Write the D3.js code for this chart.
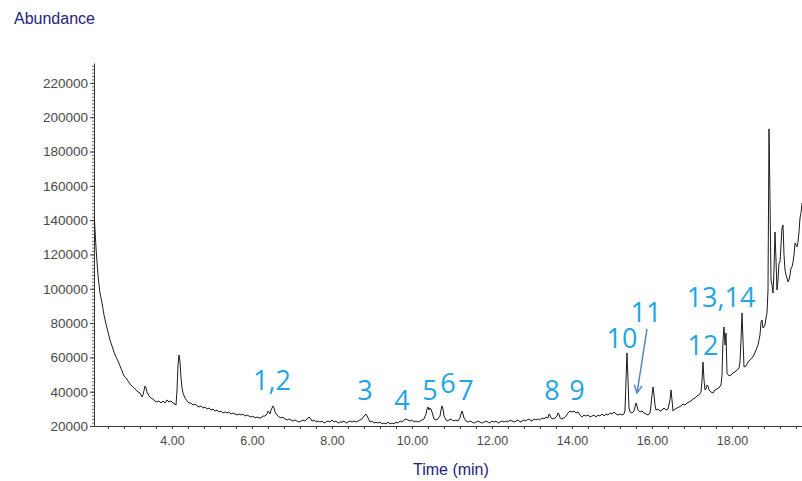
<!DOCTYPE html>
<html>
<head>
<meta charset="utf-8">
<script src="https://cdn.jsdelivr.net/npm/d3@7"></script>
<style>
  html, body { margin: 0; padding: 0; background: #ffffff; }
  svg { display: block; }
</style>
</head>
<body>
<svg id="chart" width="802" height="481"></svg>
<script>
// Total ion chromatogram: [retention time (min), abundance]
const tic = [
  [2.05,144800],[2.075,134300],[2.1,123800],[2.125,115600],[2.15,108000],[2.175,102200],[2.2,97500],
  [2.25,91700],[2.3,84700],[2.35,79500],[2.4,74800],[2.45,70100],[2.5,66600],[2.55,63100],[2.6,60200],
  [2.65,57900],[2.7,55000],[2.75,52100],[2.8,49200],[2.85,48000],[2.9,46200],[2.95,44500],[3.0,43300],
  [3.05,42200],[3.1,41000],[3.15,39800],[3.2,39200],[3.25,36900],[3.275,38100],[3.325,43300],[3.35,42200],
  [3.375,39800],[3.425,37500],[3.475,36300],[3.525,35700],[3.575,34600],[3.625,34000],[3.675,34600],
  [3.725,33400],[3.775,34600],[3.825,33400],[3.875,35200],[3.925,34000],[3.975,34600],[4.025,33400],
  [4.075,32800],[4.1,32200],[4.125,41000],[4.15,55600],[4.175,61400],[4.2,57300],[4.225,48000],
  [4.25,42200],[4.275,39200],[4.325,36300],[4.375,34600],[4.425,33400],[4.475,33400],[4.525,32200],
  [4.575,32800],[4.625,31700],[4.675,31100],[4.725,31700],[4.775,30500],[4.825,31100],[4.875,29900],
  [4.925,30500],[4.975,29300],[5.025,29900],[5.075,28700],[5.125,29300],[5.175,28200],[5.225,28700],
  [5.275,27600],[5.325,28200],[5.375,27600],[5.425,28200],[5.475,27000],[5.525,27600],[5.575,27000],
  [5.625,26400],[5.675,27000],[5.725,26400],[5.775,27000],[5.825,25800],[5.875,26400],[5.925,25800],
  [5.975,25200],[6.025,25800],[6.075,24700],[6.125,25200],[6.175,24700],[6.225,24700],[6.275,25800],
  [6.325,25800],[6.375,27000],[6.4,28700],[6.425,28200],[6.45,27000],[6.475,29300],[6.525,31700],
  [6.55,30500],[6.575,28200],[6.625,26400],[6.675,25200],[6.725,24700],[6.775,25200],[6.825,24100],
  [6.875,23500],[6.925,24100],[6.975,23500],[7.025,22900],[7.075,23500],[7.125,22900],[7.175,22300],
  [7.225,22900],[7.275,23500],[7.325,22900],[7.375,24100],[7.425,25200],[7.45,24700],[7.5,22900],
  [7.55,23500],[7.6,22300],[7.65,22900],[7.7,22300],[7.75,22900],[7.8,21700],[7.85,22300],[7.9,22900],
  [7.95,22300],[8.0,23500],[8.05,22300],[8.1,22900],[8.15,21700],[8.2,22300],[8.25,22300],[8.3,22900],
  [8.35,21700],[8.4,22300],[8.45,22900],[8.5,22300],[8.55,22900],[8.6,22300],[8.65,22900],[8.7,23500],
  [8.75,24100],[8.8,25800],[8.85,27000],[8.9,24700],[8.95,22300],[9.0,22900],[9.05,21700],[9.1,22300],
  [9.15,21700],[9.2,22300],[9.25,21200],[9.3,21700],[9.35,21200],[9.4,22300],[9.45,21200],[9.5,21700],
  [9.55,21200],[9.6,22300],[9.65,21700],[9.7,22900],[9.75,22300],[9.8,23500],[9.85,24100],[9.9,23500],
  [9.95,22900],[10.0,23500],[10.05,22300],[10.1,22900],[10.15,22300],[10.2,22900],[10.25,23500],
  [10.3,24100],[10.35,27000],[10.375,29900],[10.4,31100],[10.425,29300],[10.45,30500],[10.475,29900],
  [10.5,28200],[10.55,24100],[10.6,23500],[10.65,24100],[10.7,25800],[10.725,29300],[10.75,31700],
  [10.775,29900],[10.8,25800],[10.85,23500],[10.9,22900],[10.95,24100],[11.0,23500],[11.05,22900],
  [11.1,23500],[11.15,22900],[11.2,24700],[11.225,27000],[11.25,28700],[11.275,27000],[11.3,24700],
  [11.35,22900],[11.4,22300],[11.45,22900],[11.5,22300],[11.55,21700],[11.6,22300],[11.65,22900],
  [11.7,22300],[11.75,21700],[11.8,22300],[11.85,22900],[11.9,22300],[11.95,21700],[12.0,22900],
  [12.05,22300],[12.1,22900],[12.15,21700],[12.2,22300],[12.25,22900],[12.3,22300],[12.35,22900],
  [12.4,22300],[12.45,23500],[12.5,22900],[12.55,22300],[12.6,22900],[12.65,23500],[12.7,22300],
  [12.75,22900],[12.8,23500],[12.85,22900],[12.9,24100],[12.95,23500],[13.0,22900],[13.05,24100],
  [13.1,23500],[13.15,24100],[13.2,23500],[13.25,24700],[13.3,24100],[13.35,25200],[13.4,24700],
  [13.425,27000],[13.45,26400],[13.475,24700],[13.525,24100],[13.575,24700],[13.625,25800],[13.65,27600],
  [13.675,27000],[13.7,24700],[13.75,24100],[13.8,24700],[13.85,25800],[13.9,27600],[13.95,28700],
  [14.0,28200],[14.05,28700],[14.1,27600],[14.15,28200],[14.2,26400],[14.25,25200],[14.3,26400],
  [14.35,25800],[14.4,26400],[14.45,25200],[14.5,25800],[14.55,26400],[14.6,25200],[14.65,26400],
  [14.7,25800],[14.75,27000],[14.8,25800],[14.85,27000],[14.9,26400],[14.95,27600],[15.0,27000],
  [15.05,28200],[15.1,27000],[15.15,26400],[15.2,27000],[15.25,26400],[15.3,27000],[15.325,29300],
  [15.35,46800],[15.375,62600],[15.4,46800],[15.425,30500],[15.45,28200],[15.5,27600],[15.55,28700],
  [15.6,33400],[15.625,31700],[15.65,29300],[15.7,28200],[15.75,28700],[15.8,27600],[15.85,27000],
  [15.9,26400],[15.95,27600],[15.975,32200],[16.0,38100],[16.025,42700],[16.05,38100],[16.075,32200],
  [16.1,29300],[16.15,29900],[16.2,28700],[16.25,29300],[16.3,30500],[16.35,29300],[16.4,29900],
  [16.45,35200],[16.475,41000],[16.5,35200],[16.525,28700],[16.575,29900],[16.625,30500],[16.675,31100],
  [16.725,31700],[16.775,32800],[16.825,32200],[16.875,33400],[16.925,34000],[16.975,34600],
  [17.025,35700],[17.075,36300],[17.125,37500],[17.175,38100],[17.225,39800],[17.25,46800],
  [17.275,57300],[17.3,46800],[17.325,41000],[17.35,41600],[17.375,43900],[17.4,43300],[17.425,41000],
  [17.475,39800],[17.525,39200],[17.575,41000],[17.625,41600],[17.675,42200],[17.7,43300],[17.725,43900],
  [17.75,49700],[17.775,70100],[17.8,77700],[17.825,67200],[17.85,74200],[17.875,50900],[17.925,49200],
  [17.975,49700],[18.025,50900],[18.075,51500],[18.125,52600],[18.175,53800],[18.2,57300],[18.225,70100],
  [18.25,85900],[18.275,70100],[18.3,54400],[18.35,55000],[18.4,57300],[18.45,58500],[18.5,59600],
  [18.55,61400],[18.6,64300],[18.65,67200],[18.7,73100],[18.725,80600],[18.75,81800],[18.775,77100],
  [18.8,77700],[18.825,78900],[18.85,83000],[18.875,85900],[18.9,99300],[18.925,193200],[18.95,151800],
  [18.975,105100],[19.0,102200],[19.025,97500],[19.05,110900],[19.075,133100],[19.1,116800],
  [19.125,99300],[19.15,105100],[19.175,115000],[19.2,115600],[19.225,125500],[19.25,135400],
  [19.275,137200],[19.3,119700],[19.325,110900],[19.35,108000],[19.375,106300],[19.4,104000],
  [19.425,105100],[19.45,108000],[19.475,112100],[19.5,112700],[19.525,115600],[19.55,119700],
  [19.575,126700],[19.6,125500],[19.625,124400],[19.65,127300],[19.675,133100],[19.7,141300],
  [19.725,144200],[19.75,150000]
];

// Axis ticks
const timeTicks = [4, 6, 8, 10, 12, 14, 16, 18];
const abundanceTicks = [20000, 40000, 60000, 80000, 100000, 120000, 140000, 160000, 180000, 200000, 220000];

// Peak numbering: label, anchor time (min), anchor abundance (text baseline)
const peakLabels = ["1,2", "3", "4", "5", "6", "7", "8", "9", "10", "11", "12", "13,14"];
const peakLabelTime = [6.5, 8.825, 9.75, 10.45, 10.9, 11.35, 13.5, 14.125, 15.25, 15.85, 17.275, 17.725];
const peakLabelLevel = [41000, 35200, 29300, 35200, 39200, 35200, 35200, 35200, 65500, 80600, 61400, 89400];

// Pointer from label 11 down to its small peak
const arrowStart = [15.875, 76600];
const arrowEnd = [15.625, 39200];

const W = 802, H = 481;
const margin = { top: 63, right: 0, bottom: 55, left: 94 };

const x = d3.scaleLinear().domain([2.05, 19.75]).range([margin.left, W - margin.right]);
const y = d3.scaleLinear().domain([20000, 231600]).range([H - margin.bottom, margin.top]);

const svg = d3.select("#chart");

svg.append("defs").append("clipPath").attr("id", "plot-clip")
  .append("rect")
  .attr("x", margin.left).attr("y", margin.top - 5)
  .attr("width", W - margin.left - margin.right + 1)
  .attr("height", H - margin.bottom - margin.top + 5);

svg.append("defs").append("marker")
  .attr("id", "arrowhead")
  .attr("viewBox", "0 0 10 10")
  .attr("refX", 9).attr("refY", 5)
  .attr("markerWidth", 7).attr("markerHeight", 7)
  .attr("orient", "auto")
  .append("path")
  .attr("d", "M1,1 L9,5 L1,9")
  .attr("fill", "none")
  .attr("stroke", "#4f81bd")
  .attr("stroke-width", 1.4);

const axisColor = "#3a3a3a";
const labelColor = "#4a4a4a";
const tickFont = "'Liberation Sans', Arial, sans-serif";

// Minor ticks on the time axis
const minorTime = d3.range(2.4, 19.76, 0.4);
svg.append("g")
  .attr("transform", `translate(0,${H - margin.bottom})`)
  .call(d3.axisBottom(x).tickValues(minorTime).tickSize(3).tickSizeOuter(0).tickFormat(""))
  .call(g => g.select(".domain").remove())
  .call(g => g.selectAll("line").attr("stroke", axisColor));

// Labelled time axis
const xAxis = svg.append("g")
  .attr("transform", `translate(0,${H - margin.bottom})`)
  .call(d3.axisBottom(x).tickValues(timeTicks).tickSize(3).tickSizeOuter(0)
    .tickPadding(7).tickFormat(d3.format(".2f")));
xAxis.select(".domain").attr("stroke", axisColor);
xAxis.selectAll("line").attr("stroke", axisColor);
xAxis.selectAll("text")
  .attr("fill", labelColor)
  .style("font-family", tickFont)
  .style("font-size", "12.5px");

// Minor ticks on the abundance axis
const minorAbundance = d3.range(20000, 231600, 2000);
svg.append("g")
  .attr("transform", `translate(${margin.left},0)`)
  .call(d3.axisLeft(y).tickValues(minorAbundance).tickSize(2).tickSizeOuter(0).tickFormat(""))
  .call(g => g.select(".domain").remove())
  .call(g => g.selectAll("line").attr("stroke", "#6a6a6a"));

// Labelled abundance axis
const yAxis = svg.append("g")
  .attr("transform", `translate(${margin.left},0)`)
  .call(d3.axisLeft(y).tickValues(abundanceTicks).tickSize(4).tickSizeOuter(0)
    .tickPadding(2).tickFormat(d3.format("d")));
yAxis.select(".domain").attr("stroke", axisColor);
yAxis.selectAll("line").attr("stroke", axisColor);
yAxis.selectAll("text")
  .attr("fill", labelColor)
  .style("font-family", tickFont)
  .style("font-size", "13.5px");

// Chromatogram trace
const line = d3.line().x(d => x(d[0])).y(d => y(d[1]));
svg.append("path")
  .datum(tic)
  .attr("clip-path", "url(#plot-clip)")
  .attr("d", line)
  .attr("fill", "none")
  .attr("stroke", "#1c1c1c")
  .attr("stroke-width", 1)
  .attr("stroke-linejoin", "round");

// Axis titles
svg.append("text")
  .attr("x", 14).attr("y", 24)
  .attr("fill", "#23237a")
  .style("font-family", tickFont)
  .style("font-size", "16px")
  .text("Abundance");

svg.append("text")
  .attr("x", 413).attr("y", 475)
  .attr("fill", "#23237a")
  .style("font-family", tickFont)
  .style("font-size", "16px")
  .text("Time (min)");

// Peak numbers
svg.append("g").selectAll("text")
  .data(peakLabels)
  .join("text")
  .attr("x", (d, i) => x(peakLabelTime[i]))
  .attr("y", (d, i) => y(peakLabelLevel[i]))
  .attr("text-anchor", "middle")
  .attr("fill", "#1fa5e4")
  .style("font-family", "'Open Sans', 'Noto Sans', sans-serif")
  .style("font-size", "27px")
  .text(d => d);

// Arrow to peak 11
svg.append("line")
  .attr("x1", x(arrowStart[0])).attr("y1", y(arrowStart[1]))
  .attr("x2", x(arrowEnd[0])).attr("y2", y(arrowEnd[1]))
  .attr("stroke", "#4f81bd")
  .attr("stroke-width", 1.4)
  .attr("marker-end", "url(#arrowhead)");
</script>
</body>
</html>
